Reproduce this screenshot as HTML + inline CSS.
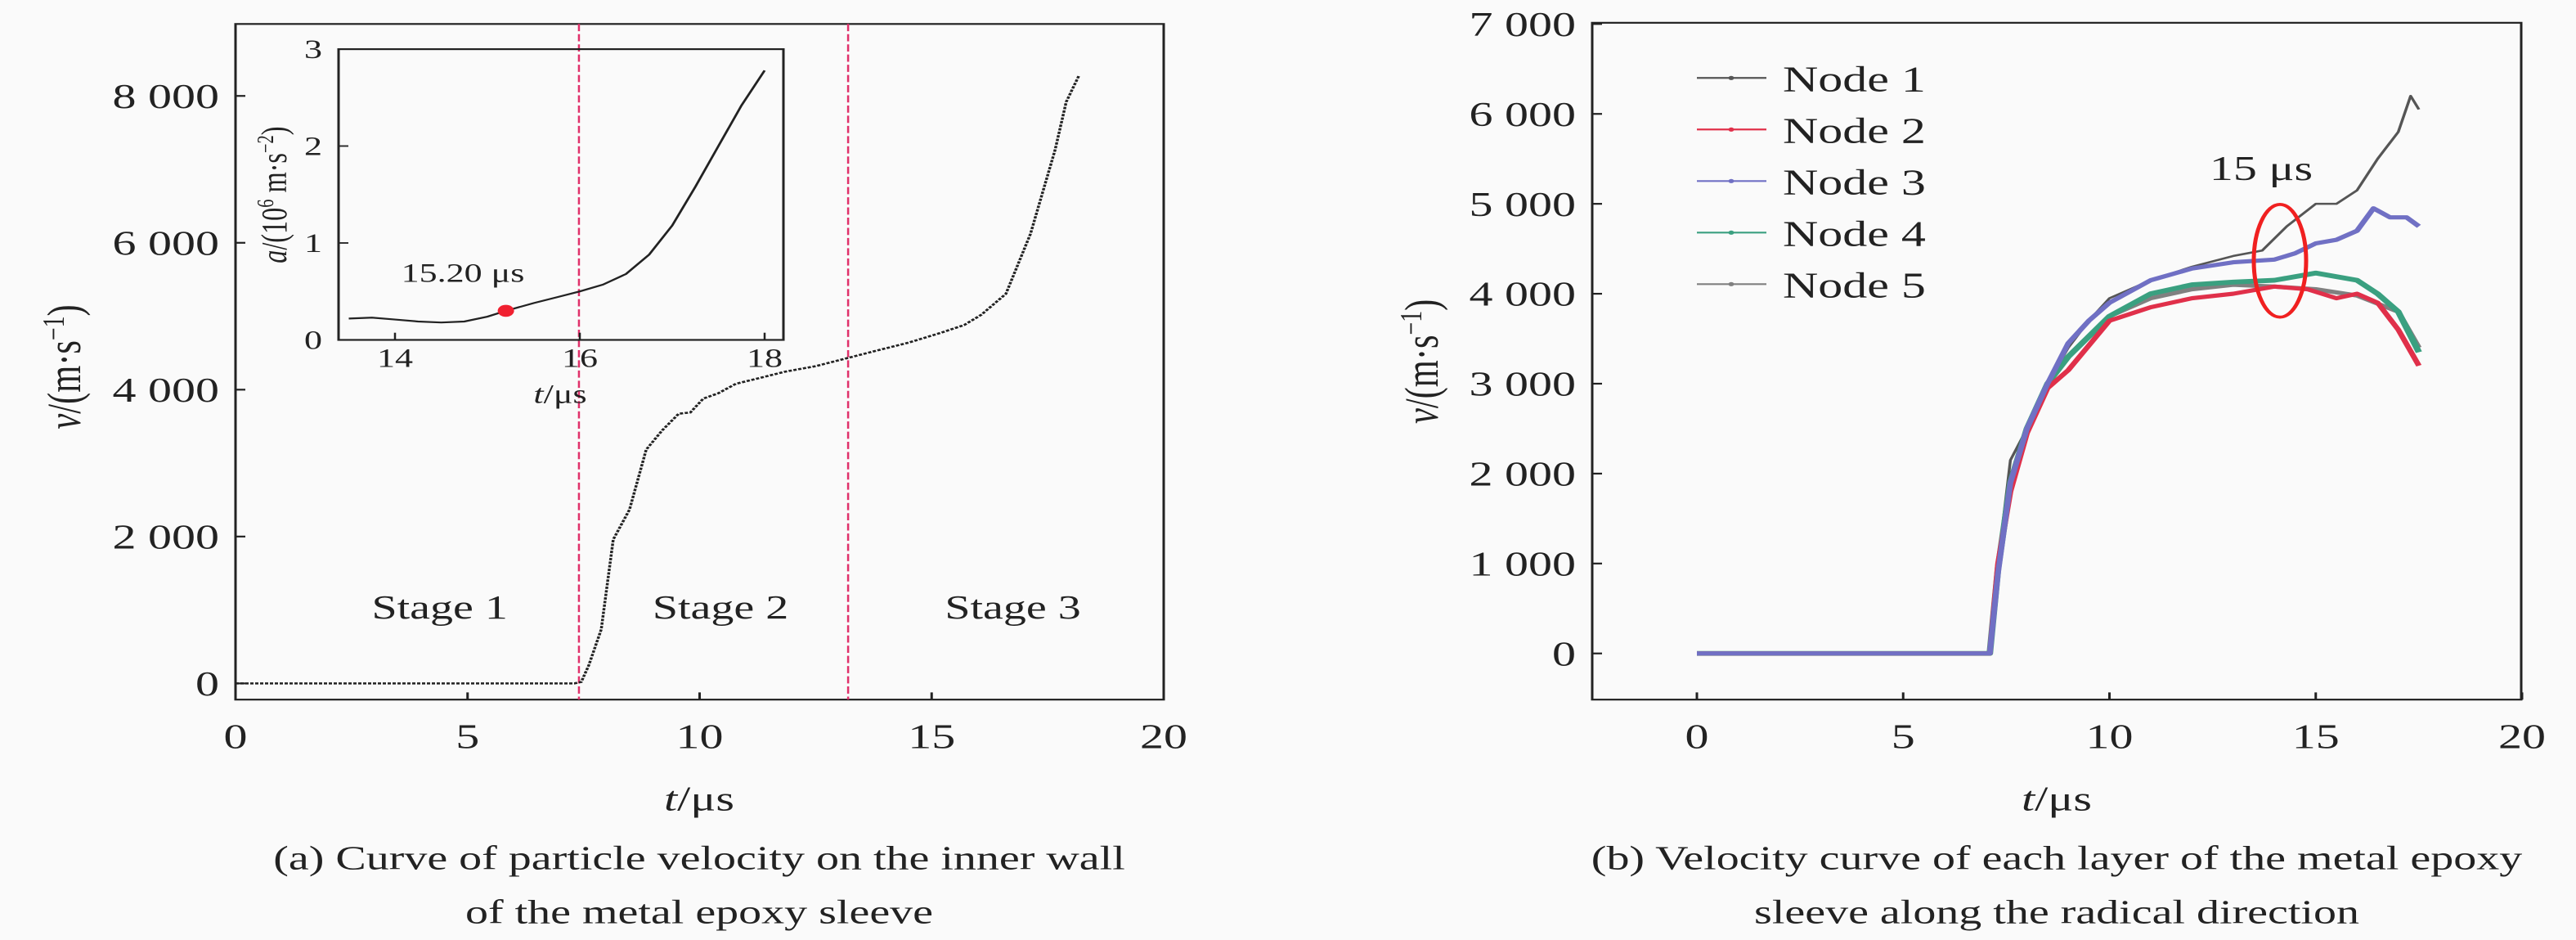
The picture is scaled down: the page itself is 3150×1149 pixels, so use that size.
<!DOCTYPE html>
<html><head><meta charset="utf-8"><style>
html,body{margin:0;padding:0;background:#fafafa;overflow:hidden;}
svg{display:block;font-family:"Liberation Serif",serif;}
</style></head><body>
<svg id="fig" width="3150" height="1149" viewBox="0 0 3150 1568" preserveAspectRatio="none" xmlns="http://www.w3.org/2000/svg">
<rect width="3150" height="1568" fill="#fafafa"/>
<g id="left"></g>
<g id="inset"></g>
<g id="right"></g>
</svg>
<script>
// ---- Chart (a) data ----
const aTimes = [0,2,4,6,7.3,7.45,7.61,7.88,8.14,8.49,8.85,9.2,9.55,9.8,10.08,10.4,10.78,11.3,11.84,12.5,13.2,13.8,14.5,15.2,15.7,16.07,16.6,17.13,17.66,17.9,18.18];
const aVel   = [0,0,0,0,0,20,245,735,1960,2367,3184,3450,3673,3690,3878,3950,4080,4160,4245,4320,4433,4530,4640,4775,4880,5020,5306,6122,7265,7918,8285];
const aXTicks = [0,5,10,15,20];
const aYTicks = [0,2000,4000,6000,8000];
const aYLabels = ["0","2 000","4 000","6 000","8 000"];
const stageLines = [7.4,13.2];
const stageNames = ["Stage 1","Stage 2","Stage 3"];
const stageCenters = [4.4,10.45,16.75];
// ---- Inset data ----
const inTimes = [13.5,13.75,14,14.25,14.5,14.75,15,15.2,15.5,15.75,16,16.25,16.5,16.75,17,17.25,17.5,17.75,18];
const inAcc   = [0.22,0.23,0.21,0.19,0.18,0.19,0.24,0.3,0.38,0.44,0.5,0.57,0.68,0.88,1.18,1.58,2.0,2.42,2.78];
const inXTicks = [14,16,18];
const inYTicks = [0,1,2,3];
const markT = 15.2, markA = 0.3;
// ---- Chart (b) data ----
const bXTicks = [0,5,10,15,20];
const bYTicks = [0,1000,2000,3000,4000,5000,6000,7000];
const bYLabels = ["0","1 000","2 000","3 000","4 000","5 000","6 000","7 000"];
const node1T = [0,3,7.1,7.3,7.6,8,8.5,9,9.5,10,11,12,13,13.7,14.3,15,15.5,16,16.5,17,17.3,17.5];
const node1V = [0,0,0,1000,2150,2500,3000,3400,3700,3950,4150,4300,4420,4480,4750,5000,5000,5150,5500,5800,6200,6050];
const node2T = [0,3,7.1,7.3,7.6,8,8.5,9,10,11,12,13,14,14.8,15.5,16,16.5,17,17.5];
const node2V = [0,0,0,1000,1800,2450,2950,3150,3700,3850,3950,4000,4080,4050,3950,4000,3900,3600,3200];
const node3T = [0,3,7.1,7.3,7.6,8,8.5,9,9.5,10,11,12,13,14,14.5,15,15.5,16,16.4,16.8,17.2,17.5];
const node3V = [0,0,0,900,1900,2500,3000,3450,3700,3900,4150,4280,4350,4380,4450,4560,4600,4700,4950,4850,4850,4750];
const node4T = [0,3,7.1,7.3,7.6,8,8.5,9,10,11,12,13,14,15,16,16.5,17,17.5];
const node4V = [0,0,0,950,1900,2500,3000,3300,3750,4000,4100,4130,4150,4230,4150,4000,3800,3350];
const node5T = [0,3,7.1,7.3,7.6,8,8.5,9,10,11,12,13,14,15,16,17,17.5];
const node5V = [0,0,0,950,1900,2500,3000,3300,3750,3950,4050,4100,4080,4050,3980,3800,3400];
const nodeNames = ["Node 1","Node 2","Node 3","Node 4","Node 5"];

const NS="http://www.w3.org/2000/svg";
function mk(parent,tag,attrs,text){const e=document.createElementNS(NS,tag);for(const k in attrs)e.setAttribute(k,attrs[k]);if(text!==undefined)e.textContent=text;parent.appendChild(e);return e;}
function pathFrom(ts,vs,sx,sy){return ts.map((t,i)=>(i?"L":"M")+sx(t).toFixed(1)+","+sy(vs[i]).toFixed(1)).join(" ");}

// ===== Chart (a) =====
(function(){
const g=document.getElementById('left');
const X0=288,X1=1423,Y0=40,Y1=1167;
const sx=t=>X0+(t-0)/20*(X1-X0);
const sy=v=>1140-v*0.1225;
let e;
e=mk(g,'rect',{x:X0,y:Y0,width:X1-X0,height:Y1-Y0,fill:'none',stroke:'#222','stroke-width':3});


aXTicks.forEach(t=>{
 e=mk(g,'line',{x1:sx(t),x2:sx(t),y1:Y1,y2:Y1-12,stroke:'#222','stroke-width':3});
 
 
 e=mk(g,'text',{x:sx(t),y:1248,'font-size':58,'text-anchor':'middle',fill:'#222'},String(t));
 
 
});
aYTicks.forEach((v,i)=>{
 e=mk(g,'line',{x1:X0,x2:X0+12,y1:sy(v),y2:sy(v),stroke:'#222','stroke-width':3});
 
 
 e=mk(g,'text',{x:268,y:sy(v)+20,'font-size':58,'text-anchor':'end',fill:'#222'},aYLabels[i]);
 
 
});
stageLines.forEach(t=>{
 e=mk(g,'line',{x1:sx(t),x2:sx(t),y1:Y0,y2:Y1,stroke:'#e0306a','stroke-width':2.5,'stroke-dasharray':'12 5'});
 
 
});
stageNames.forEach((s,i)=>{
 e=mk(g,'text',{x:sx(stageCenters[i]),y:1032,'font-size':56,'text-anchor':'middle',fill:'#222'},s);
 
 
});
e=mk(g,'path',{d:pathFrom(aTimes,aVel,sx,sy),fill:'none',stroke:'#222','stroke-width':3.5,'stroke-dasharray':'4 2'});


e=mk(g,'text',{x:0,y:0,'font-size':58,'text-anchor':'middle',fill:'#222',transform:'translate(98,612) rotate(-90)'});
e.innerHTML='<tspan font-style="italic">v</tspan>/(m·s<tspan dy="-20" font-size="38">−1</tspan><tspan dy="20">)</tspan>';


e=mk(g,'text',{x:855,y:1352,'font-size':58,'text-anchor':'middle',fill:'#222'});
e.innerHTML='<tspan font-style="italic">t</tspan>/μs';


e=mk(g,'text',{x:855,y:1450,'font-size':56,'text-anchor':'middle',fill:'#222'},'(a) Curve of particle velocity on the inner wall');


e=mk(g,'text',{x:855,y:1540,'font-size':56,'text-anchor':'middle',fill:'#222'},'of the metal epoxy sleeve');


})();

// ===== Inset =====
(function(){
const g=document.getElementById('inset');
const X0=414,X1=958,Y0=82,Y1=567;
const sx=t=>483+(t-14)*113;
const sy=a=>567-a*161.7;
let e;
e=mk(g,'rect',{x:X0,y:Y0,width:X1-X0,height:Y1-Y0,fill:'none',stroke:'#222','stroke-width':3});


inXTicks.forEach(t=>{
 e=mk(g,'line',{x1:sx(t),x2:sx(t),y1:Y1,y2:Y1-12,stroke:'#222','stroke-width':2.5});
 
 
 e=mk(g,'text',{x:sx(t),y:612,'font-size':44,'text-anchor':'middle',fill:'#222'},String(t));
 
 
});
inYTicks.forEach(v=>{
 e=mk(g,'line',{x1:X0,x2:X0+12,y1:sy(v),y2:sy(v),stroke:'#222','stroke-width':2.5});
 
 
 e=mk(g,'text',{x:394,y:sy(v)+15,'font-size':44,'text-anchor':'end',fill:'#222'},String(v));
 
 
});
e=mk(g,'path',{d:pathFrom(inTimes,inAcc,sx,sy),fill:'none',stroke:'#222','stroke-width':3});


e=mk(g,'circle',{cx:sx(markT),cy:sy(markA),r:10,fill:'#f02030'});


e=mk(g,'text',{x:566,y:470,'font-size':44,'text-anchor':'middle',fill:'#222'},'15.20 μs');


e=mk(g,'text',{x:685,y:672,'font-size':44,'text-anchor':'middle',fill:'#222'});
e.innerHTML='<tspan font-style="italic">t</tspan>/μs';


e=mk(g,'text',{x:0,y:0,'font-size':44,'text-anchor':'middle',fill:'#222',transform:'translate(350,325) rotate(-90)'});
e.innerHTML='<tspan font-style="italic">a</tspan>/(10<tspan dy="-16" font-size="28">6</tspan><tspan dy="16"> m·s</tspan><tspan dy="-16" font-size="28">−2</tspan><tspan dy="16">)</tspan>';


})();

// ===== Chart (b) =====
(function(){
const g=document.getElementById('right');
const OX=1575;
const X0=OX+372,X1=OX+1508,Y0=38,Y1=1167;
const sx=t=>OX+500+t*50.45;
const sy=v=>1090-v*0.15;
let e;
e=mk(g,'rect',{x:X0,y:Y0,width:X1-X0,height:Y1-Y0,fill:'none',stroke:'#222','stroke-width':3});


bXTicks.forEach(t=>{
 e=mk(g,'line',{x1:sx(t),x2:sx(t),y1:Y1,y2:Y1-12,stroke:'#222','stroke-width':3});
 
 
 e=mk(g,'text',{x:sx(t),y:1248,'font-size':58,'text-anchor':'middle',fill:'#222'},String(t));
 
 
});
bYTicks.forEach((v,i)=>{
 e=mk(g,'line',{x1:X0,x2:X0+12,y1:sy(v),y2:sy(v),stroke:'#222','stroke-width':3});
 
 
 e=mk(g,'text',{x:OX+352,y:sy(v)+20,'font-size':58,'text-anchor':'end',fill:'#222'},bYLabels[i]);
 
 
});
const series=[[node1T,node1V,'#555555',3.5,'node-1-line'],[node5T,node5V,'#808080',7,'node-5-line'],[node4T,node4V,'#3aa080',8,'node-4-line'],[node2T,node2V,'#e0304a',7,'node-2-line'],[node3T,node3V,'#7070c4',7,'node-3-line']];
series.forEach(s=>{
 e=mk(g,'path',{d:pathFrom(s[0],s[1],sx,sy),fill:'none',stroke:s[2],'stroke-width':s[3],'stroke-linejoin':'round'});
 
 
});
const legColors=['#555555','#e0304a','#7070c4','#3aa080','#808080'];
nodeNames.forEach((n,i)=>{
 const y=130+i*86;
 e=mk(g,'line',{x1:OX+500,x2:OX+585,y1:y,y2:y,stroke:legColors[i],'stroke-width':3});
 
 
 e=mk(g,'circle',{cx:OX+542,cy:y,r:3.5,fill:legColors[i]});
 
 
 e=mk(g,'text',{x:OX+605,y:y+22,'font-size':60,fill:'#222'},n);
 
 
});
e=mk(g,'ellipse',{cx:OX+1213,cy:435,rx:32,ry:94,fill:'none',stroke:'#f02020','stroke-width':5});


e=mk(g,'text',{x:OX+1190,y:300,'font-size':58,'text-anchor':'middle',fill:'#222'},'15 μs');


e=mk(g,'text',{x:0,y:0,'font-size':58,'text-anchor':'middle',fill:'#222',transform:'translate('+(OX+183)+',603) rotate(-90)'});
e.innerHTML='<tspan font-style="italic">v</tspan>/(m·s<tspan dy="-20" font-size="38">−1</tspan><tspan dy="20">)</tspan>';


e=mk(g,'text',{x:OX+940,y:1352,'font-size':58,'text-anchor':'middle',fill:'#222'});
e.innerHTML='<tspan font-style="italic">t</tspan>/μs';


e=mk(g,'text',{x:OX+940,y:1450,'font-size':56,'text-anchor':'middle',fill:'#222'},'(b) Velocity curve of each layer of the metal epoxy');


e=mk(g,'text',{x:OX+940,y:1540,'font-size':56,'text-anchor':'middle',fill:'#222'},'sleeve along the radical direction');


})();
</script>
</body></html>
